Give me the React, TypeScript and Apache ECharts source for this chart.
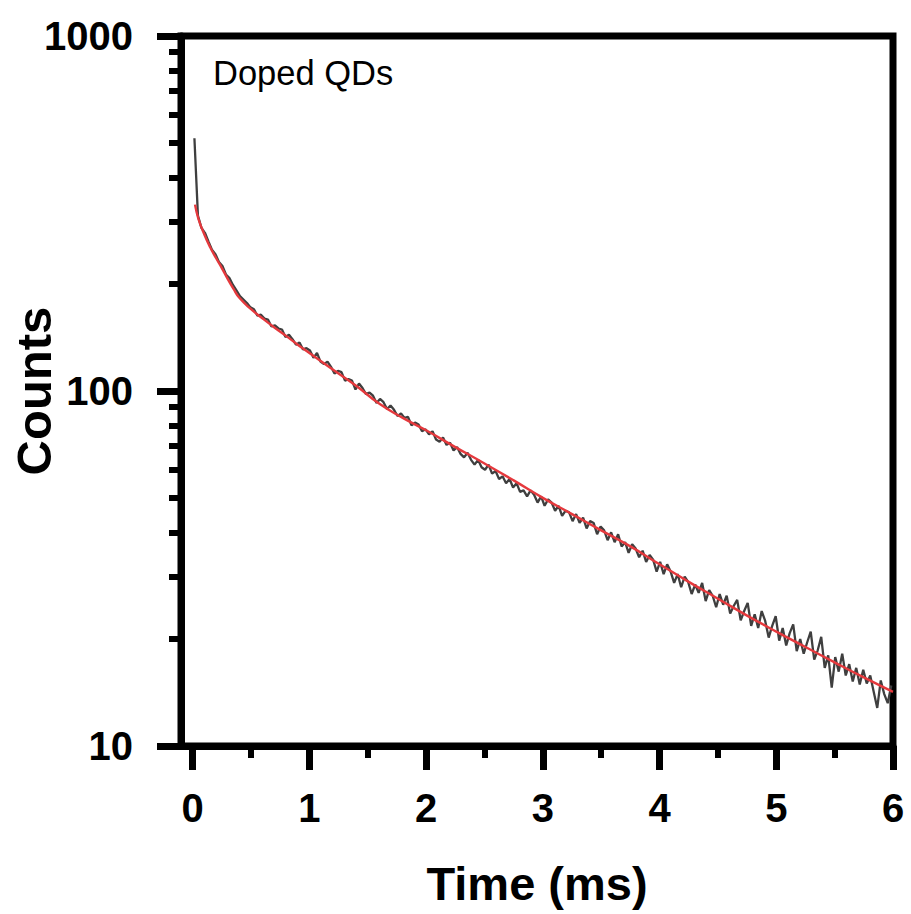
import React, { useEffect, useRef } from "react";
import * as echarts from "echarts";

// Measured decay (gray), sampled every 0.03 ms starting at 0.015 ms
const grayStart = 0.015;
const grayStep = 0.03;
const grayCounts = [
  515, 312, 288, 279, 264, 250, 243, 231, 225, 213,
  208, 199, 192, 185, 181, 177, 172, 170, 163, 164,
  160, 159, 152, 153, 150, 149, 142, 144, 140, 135,
  137, 131, 132, 130, 124, 128, 121, 119, 121, 117,
  112, 114, 113, 107, 108, 107, 101, 105, 102, 98,
  99, 97, 92.5, 95, 93, 89, 91, 88.5, 85, 86.5,
  84, 84.5, 80, 81.5, 80.5, 77, 78, 75.5, 77, 73,
  72, 74, 70.5, 71.5, 68, 69.5, 66.5, 65, 67, 64,
  62, 64, 61, 60, 62, 58.5, 59.5, 56.5, 57.5, 55,
  56.5, 53.5, 55, 52, 52.5, 50.5, 52.5, 51, 48.5, 50.5,
  47.5, 49.5, 48.5, 46, 47.5, 44.5, 46, 45.5, 43, 45,
  42.5, 44, 41, 43, 42.5, 39.5, 41.5, 40.5, 38, 40,
  37.5, 39.5, 36.5, 37.5, 35, 37, 36, 34, 35.5, 33,
  34.5, 33.5, 31, 33, 30.5, 32.5, 31, 28.8, 30.5, 28,
  30, 29, 26.8, 28.5, 27, 28.8, 25.6, 27.5, 26.5, 24.6,
  26.8, 25, 26.5, 23.6, 24.8, 25.8, 22.6, 24, 25.3, 21.8,
  23.5, 21.5, 24, 22.5, 20.2, 21.8, 23.2, 19.8, 21.5, 19.2,
  20.8, 22, 18.5, 20, 18.2, 19.6, 21, 17.5, 18.6, 20.3,
  16.6, 18, 14.6, 17.8, 16.2, 18.2, 15.8, 17, 15.2, 16.6,
  14.9, 16.4, 15, 15.8, 14.2, 12.8, 15.3, 14, 13.2, 14.8,
];

// Fitted curve (red)
const fitTimes = [
  0.02, 0.05, 0.1, 0.15, 0.2, 0.25, 0.3, 0.35, 0.4, 0.5, 0.6, 0.7, 0.8, 0.9,
  1.0, 1.2, 1.4, 1.6, 1.8, 2.0, 2.25, 2.5, 2.75, 3.0, 3.25, 3.5, 3.75, 4.0,
  4.25, 4.5, 4.75, 5.0, 5.25, 5.5, 5.75, 6.0,
];
const fitCounts = [
  335, 305, 276, 254, 237, 222, 207, 194, 183, 170, 160, 151, 143, 135,
  128, 115, 103.5, 92, 84, 77.5, 69.5, 62.5, 56, 50, 45, 40.5, 36.5, 32.5,
  29, 26, 23.3, 21, 19, 17.2, 15.6, 14.2,
];

const xMajorTicks = [0, 1, 2, 3, 4, 5, 6];
const xMinorTicks = [0.5, 1.5, 2.5, 3.5, 4.5, 5.5];
const yMinorTicks = [20, 30, 40, 50, 60, 70, 80, 90, 200, 300, 400, 500, 600, 700, 800, 900];

const FONT = "'Liberation Sans', Arial, sans-serif";

export default function App() {
  const ref = useRef<HTMLDivElement>(null);
  useEffect(() => {
    if (!ref.current) return;
    const chart = echarts.init(ref.current, null, { renderer: "svg" });
    const grayData = grayCounts.map((v, i) => [grayStart + i * grayStep, v]);
    const fitData = fitTimes.map((t, i) => [t, fitCounts[i]]);
    const lineStyle = { color: "#000", width: 7 };
    chart.setOption({
      animation: false,
      backgroundColor: "#fff",
      textStyle: { fontFamily: FONT },
      grid: {
        left: 181,
        right: 18,
        top: 36,
        bottom: 168,
        containLabel: false,
        outerBoundsMode: "none",
        show: true,
        borderColor: "#000",
        borderWidth: 7,
      },
      xAxis: [
        {
          type: "value",
          position: "bottom",
          min: -0.1,
          max: 6,
          name: "Time (ms)",
          nameLocation: "middle",
          nameGap: 114,
          nameMoveOverlap: false,
          nameTextStyle: { fontSize: 47, fontWeight: "bold", color: "#000", fontFamily: FONT },
          axisLine: { show: true, onZero: false, lineStyle },
          axisTick: { show: true, customValues: xMajorTicks, length: 24, lineStyle: { color: "#000", width: 7 } },
          axisLabel: {
            customValues: xMajorTicks,
            fontSize: 40,
            fontWeight: "bold",
            color: "#000",
            margin: 42,
            fontFamily: FONT,
          },
          splitLine: { show: false },
        },
        {
          type: "value",
          position: "bottom",
          min: -0.1,
          max: 6,
          axisLine: { show: false, onZero: false },
          axisTick: { show: true, customValues: xMinorTicks, length: 12, lineStyle: { color: "#000", width: 6 } },
          axisLabel: { show: false },
          splitLine: { show: false },
        },
      ],
      yAxis: [
        {
          type: "log",
          logBase: 10,
          position: "left",
          min: 10,
          max: 1000,
          name: "Counts",
          nameLocation: "middle",
          nameRotate: 90,
          nameGap: 123,
          nameMoveOverlap: false,
          nameTextStyle: { fontSize: 49, fontWeight: "bold", color: "#000", fontFamily: FONT },
          axisLine: { show: true, onZero: false, lineStyle },
          axisTick: { show: true, length: 24, lineStyle: { color: "#000", width: 7 } },
          axisLabel: {
            fontSize: 40,
            fontWeight: "bold",
            color: "#000",
            margin: 48,
            fontFamily: FONT,
            formatter: (v: number) => String(Math.round(v)),
          },
          splitLine: { show: false },
        },
        {
          type: "log",
          logBase: 10,
          position: "left",
          min: 10,
          max: 1000,
          axisLine: { show: false, onZero: false },
          axisTick: { show: true, customValues: yMinorTicks, length: 12, lineStyle: { color: "#000", width: 6 } },
          axisLabel: { show: false },
          splitLine: { show: false },
        },
      ],
      graphic: [
        {
          type: "text",
          left: 213,
          top: 55,
          style: { text: "Doped QDs", fontSize: 34.5, fill: "#000", fontFamily: FONT },
        },
      ],
      series: [
        {
          type: "line",
          name: "Data",
          data: grayData,
          showSymbol: false,
          lineStyle: { color: "#3f3f3f", width: 2.3 },
          z: 2,
        },
        {
          type: "line",
          name: "Fit",
          data: fitData,
          smooth: true,
          showSymbol: false,
          lineStyle: { color: "#e5393d", width: 2.4 },
          z: 3,
        },
      ],
    });
    return () => chart.dispose();
  }, []);
  return (
    <div
      ref={ref}
      style={{ position: "fixed", left: 0, top: 0, width: 911, height: 914, background: "#fff" }}
    />
  );
}
